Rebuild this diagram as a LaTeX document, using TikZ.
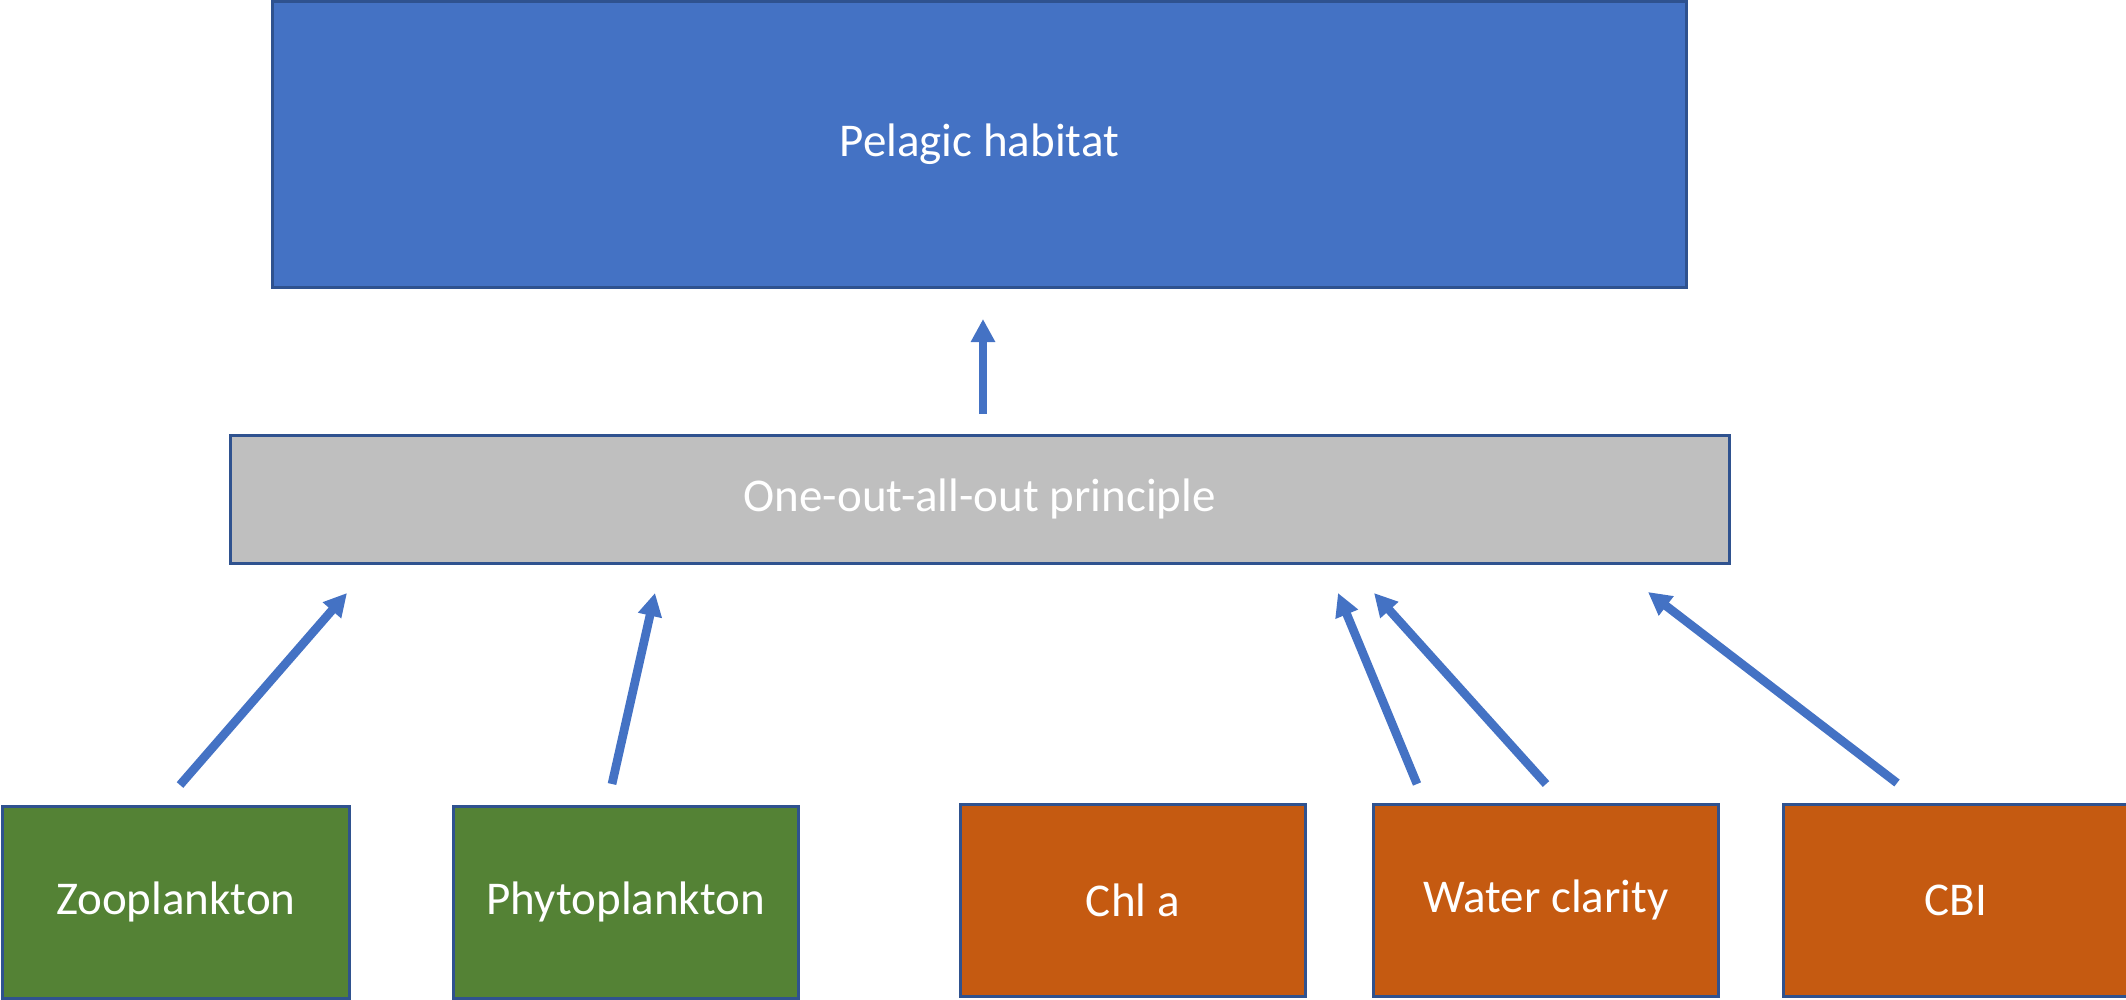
\documentclass[tikz,border=0pt]{standalone}
\usepackage{fontspec}
\setmainfont{Carlito}
\usetikzlibrary{arrows.meta}
\definecolor{accblue}{HTML}{4472C4}
\definecolor{edgeblue}{HTML}{2F528F}
\definecolor{boxgray}{HTML}{BFBFBF}
\definecolor{boxgreen}{HTML}{548235}
\definecolor{boxorange}{HTML}{C55A11}
\begin{document}
\begin{tikzpicture}[x=1pt,y=-1pt,
  box/.style={draw=edgeblue, line width=2.6pt, anchor=north west, inner sep=0pt,
    text=white, font=\fontsize{47}{56}\selectfont},
  link/.style={draw=accblue, line width=8.7pt,
    -{Triangle[length=23pt,width=23pt]}}]
  \useasboundingbox (0,0) rectangle (2126,999);
  % top level
  \node[box, fill=accblue, minimum width=1414pt, minimum height=286pt] (hab) at (271,0) {Pelagic habitat};
  % aggregation rule
  \node[box, fill=boxgray, minimum width=1499pt, minimum height=128pt] (oao) at (229,434) {One-out-all-out principle};
  % biological indicators
  \node[box, fill=boxgreen, minimum width=347pt, minimum height=192pt] (zoo) at (1,805) {Zooplankton};
  \node[box, fill=boxgreen, minimum width=345pt, minimum height=192pt] (phy) at (452,805) {Phytoplankton};
  % supporting indicators
  \node[box, fill=boxorange, minimum width=345pt, minimum height=192pt] (chl) at (959,803) {Chl a};
  \node[box, fill=boxorange, minimum width=345pt, minimum height=192pt] (wat) at (1372,803) {Water clarity};
  \node[box, fill=boxorange, minimum width=345pt, minimum height=192pt] (cbi) at (1782,803) {CBI};
  % arrow end points
  \coordinate (oao-out) at (983,414);
  \coordinate (hab-in) at (983,319);
  \coordinate (zoo-out) at (180,785);  \coordinate (zoo-in) at (347,593);
  \coordinate (phy-out) at (612,784);  \coordinate (phy-in) at (655,593);
  \coordinate (chl-out) at (1417,784); \coordinate (chl-in) at (1338,593);
  \coordinate (wat-out) at (1546,784); \coordinate (wat-in) at (1374,593);
  \coordinate (cbi-out) at (1897,783); \coordinate (cbi-in) at (1648,592);
  % connectors
  \draw[link] (oao-out) -- (hab-in);
  \draw[link] (zoo-out) -- (zoo-in);
  \draw[link] (phy-out) -- (phy-in);
  \draw[link] (chl-out) -- (chl-in);
  \draw[link] (wat-out) -- (wat-in);
  \draw[link] (cbi-out) -- (cbi-in);
\end{tikzpicture}
\end{document}
